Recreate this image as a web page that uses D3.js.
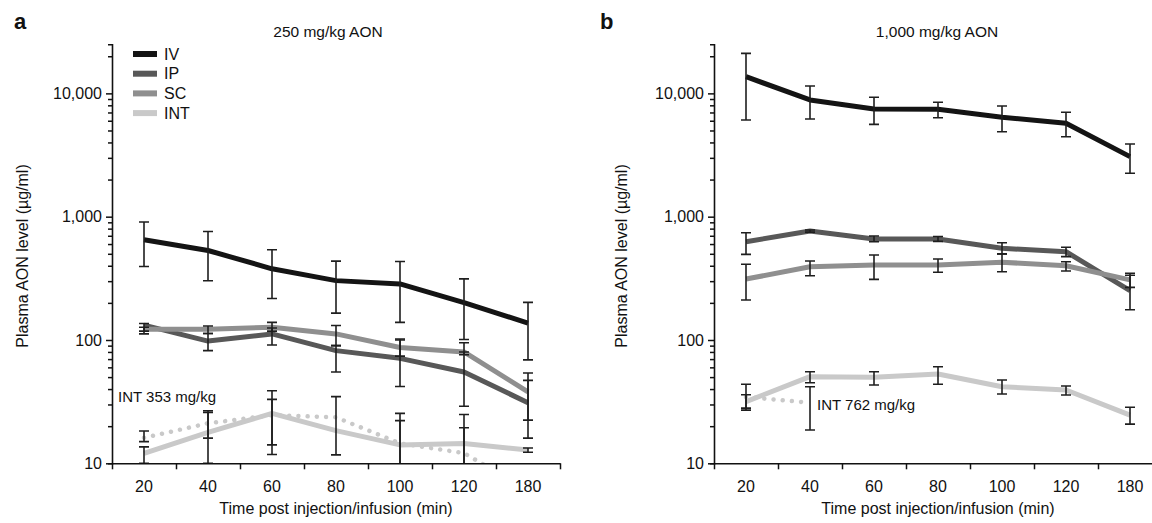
<!DOCTYPE html>
<html>
<head>
<meta charset="utf-8">
<script src="https://cdn.jsdelivr.net/npm/d3@7"></script>
<style>
  body { margin: 0; background: #fff; }
  text { font-family: "Liberation Sans", Arial, Helvetica, sans-serif; fill: #111; }
</style>
</head>
<body>
<script>
// ---------- data ----------
const times = ["20", "40", "60", "80", "100", "120", "180"];
const seriesNames = ["IV", "IP", "SC", "INT"];
const yMajorTicks = [10, 100, 1000, 10000];
const yMajorLabels = ["10", "100", "1,000", "10,000"];

// Panel a: 250 mg/kg AON
const aIV    = [650, 532, 378, 303, 285, 201, 137];
const aIVHi  = [905, 759, 539, 436, 433, 313, 202];
const aIVLo  = [394, 302, 217, 165, 139, 101, 69];
const aIP    = [132, 98, 112, 82, 71, 55, 31];
const aIPHi  = [136, 113, 125, 90, 100, 80, 47];
const aIPLo  = [112, 82, 91, 55, 42, 29, 16];
const aSC    = [122, 122, 127, 112, 87, 80, 38];
const aSCHi  = [127, 130, 139, 131, 102, 95, 54];
const aSCLo  = [118, 113, 118, 90, 74, 76, 22.4];
const aINT   = [12.05, 17.8, 25.4, 18.4, 14.1, 14.5, 12.8];
const aINTHi = [13.6, 26.7, 38.8, 34.7, 25.4, 24.9, 13.3];
const aINTLo = [10, 10, 11.8, 11.7, 7.5, 7.5, 12.3];
const aINTd   = [16.1, 21.1, 24.6, 23.6, 14.5, 12.1, 6];     // INT 353 mg/kg (dotted)
const aINTdHi = [18.3, 25.9, 33, null, 22.2, 19.4, null];
const aINTdLo = [15, 16, 14.1, null, 8, 8, null];

// Panel b: 1,000 mg/kg AON
const bIV    = [13650, 8840, 7470, 7430, 6400, 5720, 3070];
const bIVHi  = [21100, 11480, 9300, 8470, 7900, 7030, 3890];
const bIVLo  = [6090, 6200, 5610, 6350, 4890, 4450, 2250];
const bIP    = [627, 766, 659, 659, 554, 520, 251];
const bIPHi  = [741, 780, 697, 690, 615, 565, 335];
const bIPLo  = [495, 750, 627, 630, 499, 474, 176];
const bSC    = [312, 393, 406, 406, 427, 400, 307];
const bSCHi  = [411, 437, 489, 454, 499, 431, 348];
const bSCLo  = [211, 332, 310, 354, 358, 363, 267];
const bINT   = [31.6, 50.4, 49.8, 53, 41.8, 39.3, 24.6];
const bINTHi = [36, 55.3, 55.3, 60.7, 47.4, 42.4, 28.5];
const bINTLo = [27, 45, 43.1, 43.7, 36.5, 35.8, 20.8];
const bINTd   = [34.5, 31, null, null, null, null, null];     // INT 762 mg/kg (dotted)
const bINTdHi = [43.7, 41.8, null, null, null, null, null];
const bINTdLo = [28, 18.6, null, null, null, null, null];

// ---------- styles ----------
const colors = { IV: "#141414", IP: "#585858", SC: "#8f8f8f", INT: "#c9c9c9" };
const W = 1152, H = 523;
const yTop = 44.3, yBot = 463.3;

const svg = d3.select("body").append("svg").attr("width", W).attr("height", H);

const y = d3.scaleLog().domain([10, 25000]).range([yBot, yTop]);
const minorTicks = [];
for (let d = 10; d < 25000; d *= 10) for (let k = 2; k <= 9; k++) if (d * k < 25000) minorTicks.push(d * k);

function drawPanel(cfg) {
  const x0 = cfg.x0, x1 = cfg.x0 + 448;
  const x = d3.scaleBand().domain(times).range([x0, x1]);
  const xb = d3.scaleLinear().domain([0, times.length]).range([x0, x1]);
  const cx = t => x(t) + x.bandwidth() / 2;
  const g = svg.append("g");

  const clipId = "clip" + cfg.id;
  svg.append("clipPath").attr("id", clipId).append("rect")
    .attr("x", x0).attr("y", yTop - 5).attr("width", x1 - x0 + 10).attr("height", yBot - yTop + 5);

  const plot = g.append("g").attr("clip-path", `url(#${clipId})`);
  const line = d3.line().defined(d => d.v != null).x(d => cx(d.t)).y(d => y(d.v));
  const toPts = arr => times.map((t, i) => ({ t, v: arr[i] }));

  // lines
  cfg.series.forEach(s => {
    plot.append("path").datum(toPts(s.v))
      .attr("fill", "none").attr("stroke", colors[s.name])
      .attr("stroke-width", 5).attr("stroke-linejoin", "round")
      .attr("d", line);
  });
  // dotted INT
  plot.append("path").datum(toPts(cfg.dotted.v))
    .attr("fill", "none").attr("stroke", colors.INT)
    .attr("stroke-width", 4.5).attr("stroke-linecap", "round")
    .attr("stroke-dasharray", "0.01 9.2")
    .attr("d", line);

  // error bars
  const allBars = cfg.series.concat([cfg.dotted]);
  allBars.forEach(s => {
    times.forEach((t, i) => {
      if (s.hi[i] == null || s.lo[i] == null) return;
      const xc = cx(t), yh = y(s.hi[i]), yl = y(s.lo[i]);
      const eb = plot.append("g").attr("stroke", "#1e1e1e").attr("stroke-width", 1.6);
      eb.append("line").attr("x1", xc).attr("x2", xc).attr("y1", yh).attr("y2", yl);
      eb.append("line").attr("x1", xc - 5).attr("x2", xc + 5).attr("y1", yh).attr("y2", yh);
      eb.append("line").attr("x1", xc - 5).attr("x2", xc + 5).attr("y1", yl).attr("y2", yl);
    });
  });

  // y axis
  const yMinor = g.append("g").attr("transform", `translate(${x0},0)`)
    .call(d3.axisLeft(y).tickValues(minorTicks).tickSize(4).tickSizeOuter(4).tickFormat(""));
  const yMajor = g.append("g").attr("transform", `translate(${x0},0)`)
    .call(d3.axisLeft(y).tickValues(yMajorTicks).tickSize(6).tickSizeOuter(4).tickPadding(4)
      .tickFormat((d, i) => yMajorLabels[i]));
  yMajor.select(".domain").remove();
  [yMinor, yMajor].forEach(a => {
    a.selectAll("line").attr("stroke", "#111").attr("stroke-width", 1.5);
    a.selectAll("path").attr("stroke", "#111").attr("stroke-width", 1.6);
    a.selectAll("text").style("font-size", "16px").attr("fill", "#111");
  });

  // x axis: ticks at band boundaries
  const xTicks = g.append("g").attr("transform", `translate(0,${yBot})`)
    .call(d3.axisBottom(xb).tickValues(d3.range(0, times.length + 1)).tickSize(6).tickSizeOuter(0).tickFormat(""));
  xTicks.selectAll("line").attr("stroke", "#111").attr("stroke-width", 1.5);
  xTicks.select(".domain").attr("stroke", "#111").attr("stroke-width", 1.6);
  const xLab = g.append("g").attr("transform", `translate(0,${yBot})`)
    .call(d3.axisBottom(x).tickSize(0).tickPadding(17));
  xLab.select(".domain").remove();
  xLab.selectAll("text").style("font-size", "16px").attr("fill", "#111");

  // axis titles
  g.append("text").attr("x", (x0 + x1) / 2).attr("y", 514).attr("text-anchor", "middle")
    .style("font-size", "16px").text("Time post injection/infusion (min)");
  g.append("text").attr("transform", `translate(${cfg.yLabelX},256) rotate(-90)`)
    .attr("text-anchor", "middle").attr("dy", "0.35em")
    .style("font-size", "16px").text("Plasma AON level (µg/ml)");

  // panel title and letter
  g.append("text").attr("x", cfg.titleX).attr("y", 37).attr("text-anchor", "middle")
    .style("font-size", "15.5px").text(cfg.title);
  g.append("text").attr("x", cfg.letterX).attr("y", 29)
    .style("font-size", "22px").style("font-weight", "bold").text(cfg.letter);

  // dotted annotation
  g.append("text").attr("x", cfg.noteX).attr("y", cfg.noteY)
    .style("font-size", "15px").text(cfg.note);

  return { x, cx };
}

drawPanel({
  id: "a", x0: 112, title: "250 mg/kg AON", titleX: 328, letter: "a", letterX: 14, yLabelX: 22,
  note: "INT 353 mg/kg", noteX: 118, noteY: 402,
  series: [
    { name: "IV", v: aIV, hi: aIVHi, lo: aIVLo },
    { name: "IP", v: aIP, hi: aIPHi, lo: aIPLo },
    { name: "SC", v: aSC, hi: aSCHi, lo: aSCLo },
    { name: "INT", v: aINT, hi: aINTHi, lo: aINTLo }
  ],
  dotted: { name: "INT", v: aINTd, hi: aINTdHi, lo: aINTdLo }
});

drawPanel({
  id: "b", x0: 714, title: "1,000 mg/kg AON", titleX: 937, letter: "b", letterX: 600, yLabelX: 621,
  note: "INT 762 mg/kg", noteX: 817, noteY: 410,
  series: [
    { name: "IV", v: bIV, hi: bIVHi, lo: bIVLo },
    { name: "IP", v: bIP, hi: bIPHi, lo: bIPLo },
    { name: "SC", v: bSC, hi: bSCHi, lo: bSCLo },
    { name: "INT", v: bINT, hi: bINTHi, lo: bINTLo }
  ],
  dotted: { name: "INT", v: bINTd, hi: bINTdHi, lo: bINTdLo }
});

// legend (panel a)
const legend = svg.append("g");
seriesNames.forEach((n, i) => {
  const ly = 54 + i * 19.7;
  legend.append("rect").attr("x", 133).attr("y", ly - 3).attr("width", 24).attr("height", 6).attr("fill", colors[n]);
  legend.append("text").attr("x", 164).attr("y", ly).attr("dy", "0.36em").style("font-size", "16px").text(n);
});
</script>
</body>
</html>
